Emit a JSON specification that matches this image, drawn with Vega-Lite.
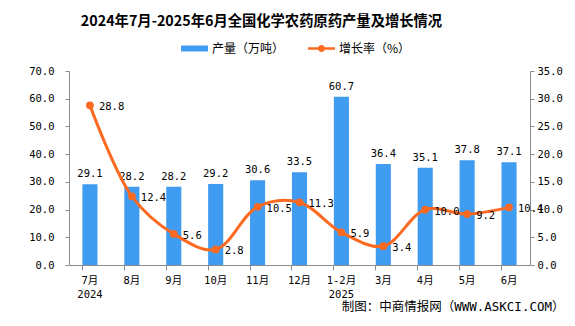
{
  "$schema": "https://vega.github.io/schema/vega-lite/v6.json",
  "autosize": {"type": "none"},
  "width": 461,
  "height": 194,
  "padding": {"left": 69, "top": 71, "right": 45, "bottom": 61},
  "background": "white",
  "title": {
    "text": "2024年7月-2025年6月全国化学农药原药产量及增长情况",
    "font": "Noto Sans CJK SC",
    "fontSize": 14.3,
    "fontWeight": "bold",
    "color": "#000000",
    "anchor": "middle",
    "dx": -38,
    "offset": 6
  },
  "config": {
    "view": {"stroke": null},
    "axis": {
      "labelFont": "DejaVu Sans Mono, Noto Sans CJK SC",
      "labelFontSize": 10.5,
      "labelColor": "#000000",
      "domainColor": "#8c8c8c",
      "tickColor": "#8c8c8c",
      "grid": false,
      "labelOverlap": false
    }
  },
  "data": {
    "values": [
      {"month": "7月\n2024", "prod": 29.1, "growth": 28.8, "s1": "产量（万吨）", "s2": "增长率（%）"},
      {"month": "8月", "prod": 28.2, "growth": 12.4, "s1": "产量（万吨）", "s2": "增长率（%）"},
      {"month": "9月", "prod": 28.2, "growth": 5.6, "s1": "产量（万吨）", "s2": "增长率（%）"},
      {"month": "10月", "prod": 29.2, "growth": 2.8, "s1": "产量（万吨）", "s2": "增长率（%）"},
      {"month": "11月", "prod": 30.6, "growth": 10.5, "s1": "产量（万吨）", "s2": "增长率（%）"},
      {"month": "12月", "prod": 33.5, "growth": 11.3, "s1": "产量（万吨）", "s2": "增长率（%）"},
      {"month": "1-2月\n2025", "prod": 60.7, "growth": 5.9, "s1": "产量（万吨）", "s2": "增长率（%）"},
      {"month": "3月", "prod": 36.4, "growth": 3.4, "s1": "产量（万吨）", "s2": "增长率（%）"},
      {"month": "4月", "prod": 35.1, "growth": 10.0, "s1": "产量（万吨）", "s2": "增长率（%）"},
      {"month": "5月", "prod": 37.8, "growth": 9.2, "s1": "产量（万吨）", "s2": "增长率（%）"},
      {"month": "6月", "prod": 37.1, "growth": 10.4, "s1": "产量（万吨）", "s2": "增长率（%）"}
    ]
  },
  "encoding": {
    "x": {
      "field": "month",
      "type": "nominal",
      "sort": null,
      "scale": {"paddingInner": 0.64, "paddingOuter": 0.32},
      "axis": {
        "labelAngle": 0,
        "labelExpr": "split(datum.label, '\\n')",
        "labelLineHeight": 14,
        "bandPosition": 0,
        "tickSize": 5,
        "labelPadding": 5,
        "title": "制图：中商情报网（WWW.ASKCI.COM）",
        "titleFont": "DejaVu Sans Mono, Noto Sans CJK SC",
        "titleFontSize": 12.5,
        "titleFontWeight": "normal",
        "titleColor": "#000000",
        "titleAnchor": "end",
        "titleAlign": "right",
        "titleBaseline": "middle",
        "titleX": 495,
        "titleY": 41
      }
    }
  },
  "layer": [
    {
      "encoding": {
        "y": {
          "field": "prod",
          "type": "quantitative",
          "scale": {"domain": [0, 70], "nice": false},
          "axis": {"values": [0, 10, 20, 30, 40, 50, 60, 70], "format": ".1f", "title": null, "tickSize": 4, "labelPadding": 11, "orient": "left", "labelOverlap": false}
        }
      },
      "layer": [
        {
          "mark": {"type": "bar"},
          "encoding": {
            "fill": {
              "field": "s1",
              "type": "nominal",
              "scale": {"range": ["#3f9cf0"]},
              "legend": {
                "title": null,
                "orient": "none",
                "legendX": 112,
                "legendY": -36,
                "symbolType": "M-1,-0.22H1V0.22H-1Z",
                "symbolSize": 729,
                "symbolStrokeWidth": 0,
                "labelFont": "Noto Sans CJK SC",
                "labelFontSize": 12,
                "labelColor": "#000000",
                "labelOffset": 4
              }
            }
          }
        },
        {
          "mark": {"type": "text", "baseline": "bottom", "dy": -5, "font": "DejaVu Sans Mono", "fontSize": 10.5, "color": "#000000"},
          "encoding": {
            "text": {"field": "prod", "type": "quantitative", "format": ".1f"}
          }
        }
      ]
    },
    {
      "encoding": {
        "y": {
          "field": "growth",
          "type": "quantitative",
          "scale": {"domain": [0, 35], "nice": false},
          "axis": {"values": [0, 5, 10, 15, 20, 25, 30, 35], "format": ".1f", "title": null, "tickSize": 4, "labelPadding": 3, "orient": "right", "labelOverlap": false}
        }
      },
      "layer": [
        {
          "mark": {"type": "line", "interpolate": "catmull-rom", "strokeWidth": 3},
          "encoding": {
            "stroke": {
              "field": "s2",
              "type": "nominal",
              "scale": {"range": ["#fc6a22"]},
              "legend": {
                "title": null,
                "orient": "none",
                "legendX": 239,
                "legendY": -36,
                "symbolType": "M-1,-0.1H1V0.1H-1Z M-0.26,0A0.26,0.26 0 1,1 0.26,0A0.26,0.26 0 1,1 -0.26,0Z",
                "symbolSize": 729,
                "symbolFillColor": "#fc6a22",
                "symbolStrokeWidth": 0,
                "labelFont": "Noto Sans CJK SC",
                "labelFontSize": 12,
                "labelColor": "#000000",
                "labelOffset": 4
              }
            }
          }
        },
        {
          "mark": {"type": "point", "filled": true, "size": 60, "opacity": 1, "color": "#fc6a22"},
          "encoding": {}
        },
        {
          "mark": {"type": "text", "align": "left", "baseline": "middle", "dx": 9, "dy": 2, "font": "DejaVu Sans Mono", "fontSize": 10.5, "color": "#000000"},
          "encoding": {
            "text": {"field": "growth", "type": "quantitative", "format": ".1f"}
          }
        }
      ]
    }
  ],
  "resolve": {"scale": {"y": "independent", "fill": "independent", "stroke": "independent"}}
}
